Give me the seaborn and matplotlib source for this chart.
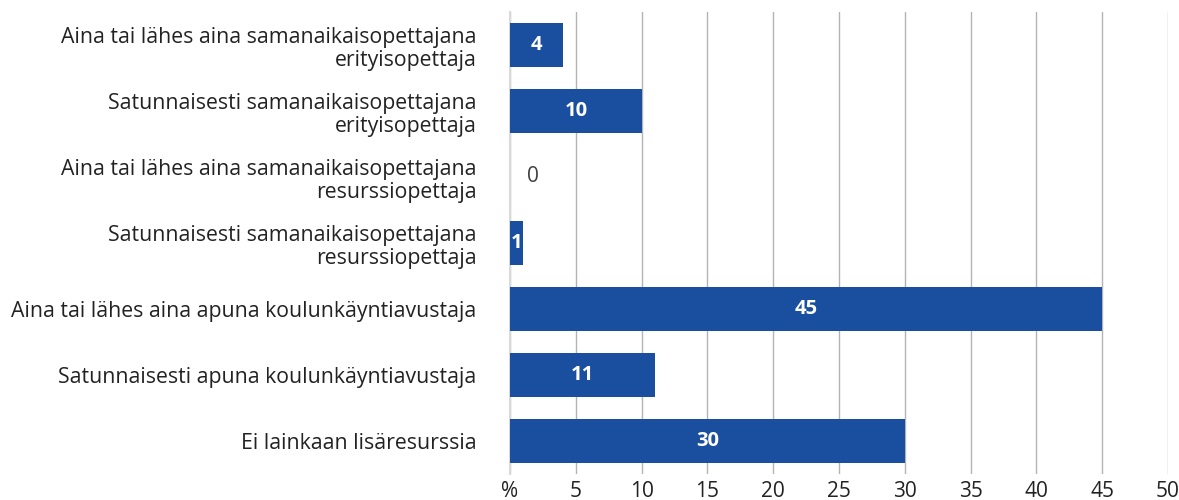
import matplotlib
matplotlib.use("Agg")
import matplotlib.pyplot as plt
import seaborn as sns
import pandas as pd

categories = [
    "Aina tai lähes aina samanaikaisopettajana\nerityisopettaja",
    "Satunnaisesti samanaikaisopettajana\nerityisopettaja",
    "Aina tai lähes aina samanaikaisopettajana\nresurssiopettaja",
    "Satunnaisesti samanaikaisopettajana\nresurssiopettaja",
    "Aina tai lähes aina apuna koulunkäyntiavustaja",
    "Satunnaisesti apuna koulunkäyntiavustaja",
    "Ei lainkaan lisäresurssia",
]
values = [4, 10, 0, 1, 45, 11, 30]
x_ticks = [0, 5, 10, 15, 20, 25, 30, 35, 40, 45, 50]
x_labels = ["%", "5", "10", "15", "20", "25", "30", "35", "40", "45", "50"]

df = pd.DataFrame({"category": categories, "value": values})

sns.set_style("white")
plt.rcParams["font.family"] = ["Open Sans", "DejaVu Sans"]

fig = plt.figure(figsize=(11.79, 5), dpi=100)
ax = fig.add_axes([0.4326, 0.052, 0.5581, 0.924])

sns.barplot(data=df, x="value", y="category", color="#1a4fa0", width=0.67,
            saturation=1, ax=ax, zorder=3, linewidth=0)

for i, v in enumerate(values):
    if v >= 1:
        ax.text(v / 2, i, str(v), color="white", fontsize=14.5, fontweight="bold",
                ha="center", va="center", zorder=4)
    else:
        ax.text(v + 1.75, i, str(v), color="#404040", fontsize=15,
                ha="center", va="center", zorder=4)

ax.set_xlim(0, 50)
ax.set_xticks(x_ticks)
ax.set_xticklabels(x_labels)
ax.xaxis.grid(True, color="#b3b3b3", linewidth=1, zorder=0)
ax.set_axisbelow(True)
ax.set_xlabel("")
ax.set_ylabel("")
ax.tick_params(axis="y", length=0, labelsize=15.3, colors="#222222", pad=24)
ax.tick_params(axis="x", length=0, labelsize=15, colors="#222222", pad=5)
for lbl in ax.get_yticklabels():
    lbl.set_horizontalalignment("right")
    lbl.set_linespacing(1.15)
for s in ["top", "right", "bottom"]:
    ax.spines[s].set_visible(False)
ax.spines["left"].set_color("#d9d9d9")
ax.spines["left"].set_linewidth(1.5)

fig.savefig("out.png", dpi=100)
